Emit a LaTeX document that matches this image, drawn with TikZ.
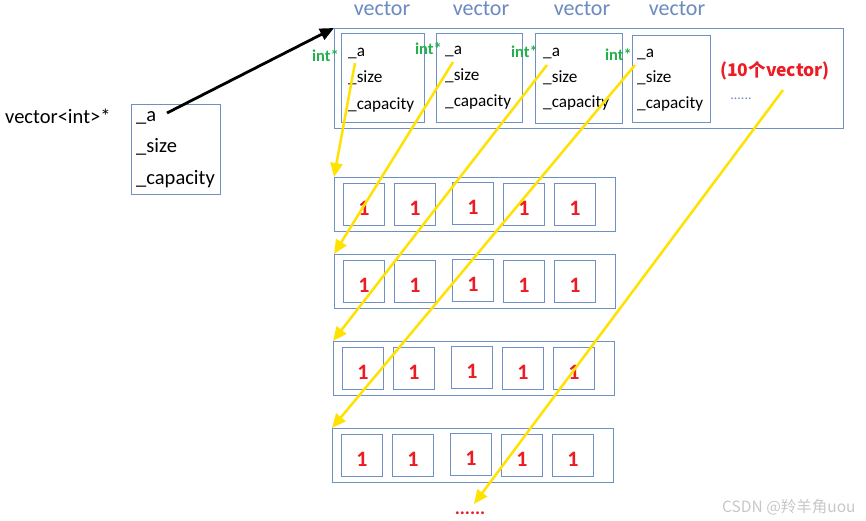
\documentclass[tikz,border=0pt]{standalone}
\usepackage{fontspec}
\setmainfont{Carlito}
\newfontfamily\cjk{Noto Sans CJK SC}
\usetikzlibrary{arrows.meta}
\definecolor{boxblue}{RGB}{110,144,194}
\definecolor{lblblue}{RGB}{106,138,192}
\definecolor{intgreen}{RGB}{34,177,76}
\definecolor{numred}{RGB}{237,28,36}
\definecolor{arrowyellow}{RGB}{255,226,0}
\definecolor{wmgray}{RGB}{200,200,200}
\tikzset{
 box/.style={draw=boxblue, line width=1pt, inner sep=0pt, anchor=north west},
 fld/.style={anchor=base west, inner sep=0pt, font=\fontsize{17.2}{20}\selectfont},
 lfld/.style={anchor=base west, inner sep=0pt, font=\fontsize{20.5}{24}\selectfont},
 veclbl/.style={anchor=base, text=lblblue, font=\fontsize{22}{26}\selectfont, inner sep=0pt, text height=13pt},
 intlbl/.style={anchor=base east, text=intgreen, font=\bfseries\fontsize{16.5}{19}\selectfont, inner sep=0pt},
 num/.style={text=numred, font=\bfseries\fontsize{22}{26}\selectfont, text height=22pt, text depth=0pt},
 yarrow/.style={draw=arrowyellow, line width=2.5pt, -{Triangle[length=14pt,width=12pt]}},
 barrow/.style={draw=black, line width=2.8pt, -{Triangle[length=14pt,width=12pt]}},
}
\begin{document}
\begin{tikzpicture}[x=1pt,y=-1pt]
\useasboundingbox[fill=white] (0,0) rectangle (866,521);

% left pointer and struct
\node[lfld] (lbl) at (5,124) {vector<int>*};
\node[box, minimum width=89, minimum height=90] (pv) at (131,104) {};
\node[lfld] (pva) at (136,122) {\_a};
\node[lfld] (pvs) at (136,153) {\_size};
\node[lfld] (pvc) at (136,185) {\_capacity};

% big container
\node[box, minimum width=509, minimum height=100] (big) at (334,28) {};

% vector labels
\node[veclbl] (v1) at (382,15.5) {vector};
\node[veclbl] (v2) at (481,15.5) {vector};
\node[veclbl] (v3) at (582,15.5) {vector};
\node[veclbl] (v4) at (677,16) {vector};

% inner vectors
\node[box, minimum width=83, minimum height=89] (b1) at (341,33) {};
\node[box, minimum width=86, minimum height=89] (b2) at (436,33) {};
\node[box, minimum width=87, minimum height=90] (b3) at (535,33) {};
\node[box, minimum width=78, minimum height=87] (b4) at (632,35) {};

\node[fld] (b1a) at (348,57) {\_a};
\node[fld] (b1s) at (348,83) {\_size};
\node[fld] (b1c) at (348,110) {\_capacity};
\node[fld] (b2a) at (445,55) {\_a};
\node[fld] (b2s) at (445,81) {\_size};
\node[fld] (b2c) at (445,107) {\_capacity};
\node[fld] (b3a) at (543,57) {\_a};
\node[fld] (b3s) at (543,83) {\_size};
\node[fld] (b3c) at (543,108) {\_capacity};
\node[fld] (b4a) at (637,58) {\_a};
\node[fld] (b4s) at (637,83) {\_size};
\node[fld] (b4c) at (637,109) {\_capacity};

\node[intlbl] (i1) at (339,62) {int*};
\node[intlbl] (i2) at (442,55) {int*};
\node[intlbl] (i3) at (538,58) {int*};
\node[intlbl] (i4) at (632,61) {int*};

\node[anchor=base, inner sep=0pt, text=numred, font=\cjk\bfseries\fontsize{17.5}{21}\selectfont] (ten) at (775,77) {(10个vector)};
\node[anchor=base, inner sep=0pt, text=lblblue, font=\fontsize{14}{16}\selectfont] (bdots) at (741,100) {......};

% rows of ints
\foreach \r/\rx/\ry in {1/334/177, 2/334/254, 3/333/341, 4/332/428} {
  \node[box, minimum width=281, minimum height=54] (row\r) at (\rx,\ry) {};
  \foreach \c/\dx/\dy in {1/9/6, 2/60/6, 3/118/5, 4/169/6, 5/220/6} {
    \node[box, minimum width=41, minimum height=42, num] (cell\r\c) at (\rx+\dx,\ry+\dy) {1};
  }
}

\node[anchor=base, inner sep=0pt, text=numred, font=\bfseries\fontsize{19}{22}\selectfont] (rdots) at (470,514) {......};

% watermark
\node[anchor=base west, inner sep=0pt, text=wmgray, font=\cjk\fontsize{15.5}{18}\selectfont] (wm) at (722,512) {CSDN @羚羊角uou};

% connectors
\coordinate (s0) at (167,113);
\coordinate (s1) at (355,63);
\coordinate (s2) at (453,62);
\coordinate (s3) at (547,65);
\coordinate (s4) at (635,65);
\coordinate (s5) at (783,90);
\coordinate (e5) at (474,504);

\draw[barrow] (s0) -- (big.north west);
\draw[yarrow] (s1) -- (row1.north west);
\draw[yarrow] (s2) -- (row2.north west);
\draw[yarrow] (s3) -- (row3.north west);
\draw[yarrow] (s4) -- (row4.north west);
\draw[yarrow] (s5) -- (e5);
\end{tikzpicture}
\end{document}
